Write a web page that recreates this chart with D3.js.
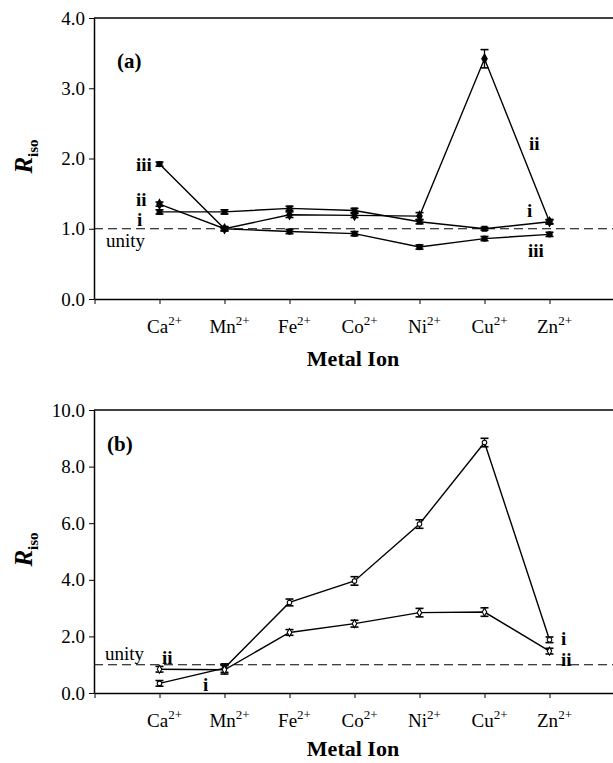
<!DOCTYPE html>
<html>
<head>
<meta charset="utf-8">
<script src="https://cdn.jsdelivr.net/npm/d3@7"></script>
</head>
<body style="margin:0">
<svg id="chart" width="613" height="763" font-family="Liberation Serif"></svg>
<script>
// categories on the x axis
const ions = ["Ca", "Mn", "Fe", "Co", "Ni", "Cu", "Zn"];

// panel (a) series
const aSeriesI   = [1.24, 1.24, 1.29, 1.26, 1.10, 1.00, 1.10];
const aSeriesII  = [1.35, 1.00, 1.20, 1.19, 1.18, 3.42, 1.10];
const aSeriesIII = [1.92, 1.00, 0.96, 0.93, 0.74, 0.86, 0.92];
const aErrI   = [0.03, 0.03, 0.03, 0.03, 0.03, 0.02, 0.03];
const aErrII  = [0.03, 0.03, 0.04, 0.03, 0.05, 0.13, 0.03];
const aErrIII = [0.03, 0.03, 0.03, 0.03, 0.03, 0.03, 0.03];
const aTicks  = [0, 1, 2, 3, 4];

// panel (b) series
const bSeriesI  = [0.34, 0.88, 3.20, 3.96, 5.97, 8.85, 1.88];
const bSeriesII = [0.84, 0.82, 2.14, 2.45, 2.84, 2.86, 1.48];
const bErrI  = [0.10, 0.15, 0.12, 0.15, 0.15, 0.15, 0.10];
const bErrII = [0.10, 0.15, 0.10, 0.12, 0.15, 0.15, 0.10];
const bTicks = [0, 2, 4, 6, 8, 10];

const fontName = "Liberation Serif";
const svg = d3.select("#chart");
const plotLeft = 94, plotRight = 613;

// x position: axis origin at 0, ions at 1..7
const x = d3.scaleLinear().domain([0, 8]).range([plotLeft + 0.5, plotRight + 1.5]);

/**
 * Draws one panel
 */
function panel(opt) {
  const y = d3.scaleLinear().domain(opt.domain).range([opt.bottom, opt.top]);
  const g = svg.append("g");

  // top frame line
  g.append("line")
      .attr("x1", plotLeft).attr("x2", plotRight)
      .attr("y1", opt.top).attr("y2", opt.top)
      .attr("stroke", "#000").attr("stroke-width", 1.5);

  // y axis
  const yAxis = d3.axisLeft(y).tickValues(opt.ticks)
      .tickFormat(d3.format(".1f")).tickSize(5).tickSizeOuter(0);
  const ya = g.append("g").attr("transform", `translate(${plotLeft},0)`).call(yAxis);
  ya.attr("font-family", null).attr("font-size", null);
  ya.select(".domain").attr("stroke-width", 1.5);
  ya.selectAll("text").attr("font-size", 19).attr("x", -9);

  // x axis
  const xAxis = d3.axisBottom(x).tickValues(d3.range(0, 8)).tickFormat("")
      .tickSize(5).tickSizeOuter(0);
  const xa = g.append("g").attr("transform", `translate(0,${opt.bottom})`).call(xAxis);
  xa.attr("font-family", null);
  xa.select(".domain").attr("stroke-width", 1.5);

  // x tick labels with superscript
  const lab = g.selectAll(".ionlab").data(ions).join("text")
      .attr("class", "ionlab")
      .attr("x", (d, i) => x(i + 1) + 5)
      .attr("y", opt.bottom + 34)
      .attr("text-anchor", "middle")
      .attr("font-size", 19);
  lab.append("tspan").text(d => d);
  lab.append("tspan").attr("dy", -8).attr("font-size", 13).text("2+");

  // axis titles
  g.append("text")
      .attr("x", 353).attr("y", opt.bottom + opt.titleDy)
      .attr("text-anchor", "middle")
      .attr("font-size", 22).attr("font-weight", "bold")
      .text("Metal Ion");
  const yt = g.append("text")
      .attr("transform", `translate(32,${(opt.top + opt.bottom) / 2 - 2}) rotate(-90)`)
      .attr("text-anchor", "middle")
      .attr("font-size", 25).attr("font-weight", "bold");
  yt.append("tspan").attr("font-style", "italic").text("R");
  yt.append("tspan").attr("dy", 6).attr("font-size", 15).text("iso");

  // unity line
  g.append("line")
      .attr("x1", plotLeft).attr("x2", plotRight)
      .attr("y1", y(1)).attr("y2", y(1))
      .attr("stroke", "#000").attr("stroke-width", 1.1)
      .attr("stroke-dasharray", "9,5");

  // panel letter
  g.append("text")
      .attr("x", opt.letterX).attr("y", opt.top + opt.letterDy)
      .attr("font-size", 21).attr("font-weight", "bold")
      .text(opt.letter);

  const line = d3.line().x((d, i) => x(i + 1)).y(d => y(d));
  opt.series.forEach(s => {
    g.append("path").datum(s.values)
        .attr("d", line)
        .attr("fill", "none").attr("stroke", "#000").attr("stroke-width", 1.4);

    // error bars
    const eb = g.append("g");
    s.values.forEach((v, i) => {
      const e = s.err[i], cx = x(i + 1);
      eb.append("line").attr("x1", cx).attr("x2", cx)
          .attr("y1", y(v - e)).attr("y2", y(v + e))
          .attr("stroke", "#000").attr("stroke-width", 1.3);
      [v - e, v + e].forEach(c => {
        eb.append("line").attr("x1", cx - 4).attr("x2", cx + 4)
            .attr("y1", y(c)).attr("y2", y(c))
            .attr("stroke", "#000").attr("stroke-width", 1.6);
      });
    });

    // markers
    g.selectAll(null).data(s.values).join("path")
        .attr("transform", (d, i) => `translate(${x(i + 1)},${y(d)})`)
        .attr("d", d3.symbol().type(s.symbol).size(s.size))
        .attr("fill", s.fill).attr("stroke", "#000").attr("stroke-width", 1.1);
  });

  // series labels
  g.selectAll(".slab").data(opt.labels).join("text")
      .attr("class", "slab")
      .attr("x", d => d[1]).attr("y", d => d[2])
      .attr("font-size", 19).attr("font-weight", "bold")
      .text(d => d[0]);

  g.append("text")
      .attr("x", opt.unityX).attr("y", opt.unityY)
      .attr("font-size", 19)
      .text("unity");
}

panel({
  top: 18, bottom: 299, domain: [0, 4], ticks: aTicks, titleDy: 67,
  letter: "(a)", letterX: 117, letterDy: 50,
  series: [
    {values: aSeriesI, err: aErrI, symbol: d3.symbolSquare, size: 22, fill: "#000"},
    {values: aSeriesII, err: aErrII, symbol: d3.symbolDiamond, size: 26, fill: "#000"},
    {values: aSeriesIII, err: aErrIII, symbol: d3.symbolCircle, size: 22, fill: "#000"}
  ],
  labels: [["iii", 136, 171], ["ii", 136, 206], ["i", 137, 226],
           ["ii", 529, 150], ["i", 527, 217], ["iii", 528, 257]],
  unityX: 106, unityY: 247
});

panel({
  top: 410, bottom: 693, domain: [0, 10], ticks: bTicks, titleDy: 63,
  letter: "(b)", letterX: 107, letterDy: 41,
  series: [
    {values: bSeriesI, err: bErrI, symbol: d3.symbolCircle, size: 16, fill: "#fff"},
    {values: bSeriesII, err: bErrII, symbol: d3.symbolDiamond, size: 18, fill: "#fff"}
  ],
  labels: [["ii", 162, 664], ["i", 203, 691], ["i", 561, 645], ["ii", 561, 666]],
  unityX: 105, unityY: 660
});

// serif everywhere, as in the printed figure
svg.selectAll("text").attr("font-family", fontName);
</script>
</body>
</html>
